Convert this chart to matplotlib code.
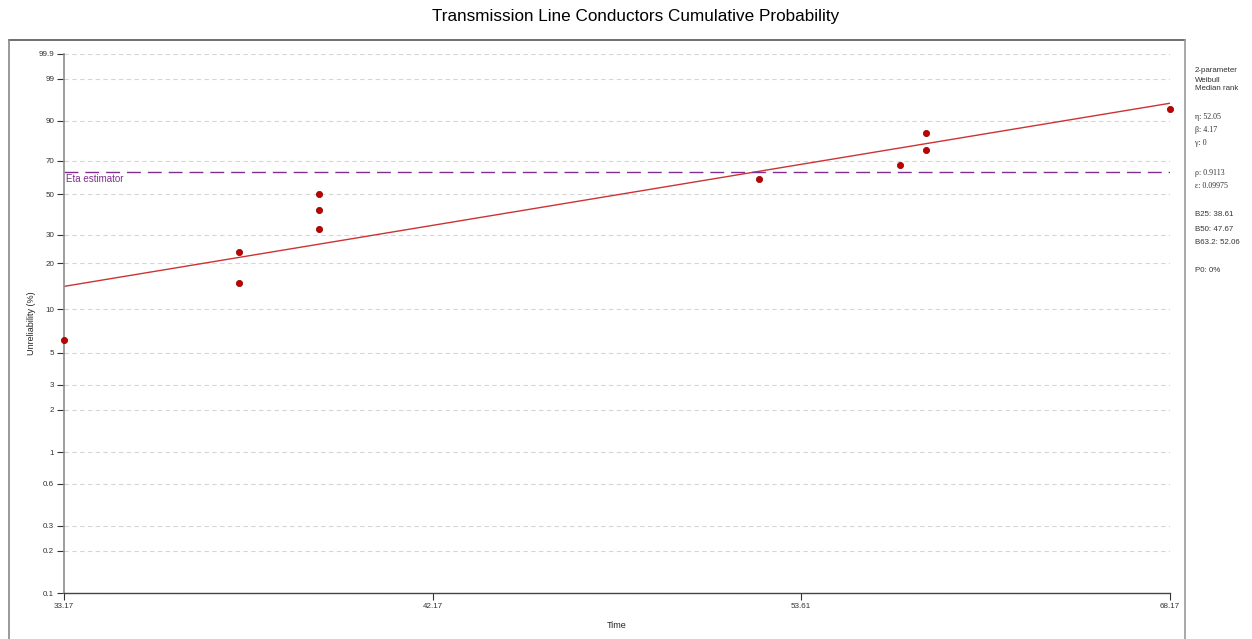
import numpy as np
import matplotlib
matplotlib.use('Agg')
import matplotlib.pyplot as plt
from matplotlib.lines import Line2D

plt.rcParams['font.family'] = ['Liberation Sans', 'DejaVu Sans']

# failure times and median-rank unreliability (%)
times = [33.17, 37.17, 37.17, 39.17, 39.17, 39.17, 52.17, 57.17, 58.17, 58.17, 68.17]
unreliability = [6.1, 14.9, 23.7, 32.5, 41.2, 50.0, 58.8, 67.5, 76.3, 85.1, 93.9]

# fitted 2-parameter Weibull
eta = 52.05
beta = 4.17
eta_level = 63.2

x_ticks = [33.17, 42.17, 53.61, 68.17]
y_ticks = [0.1, 0.2, 0.3, 0.6, 1, 2, 3, 5, 10, 20, 30, 50, 70, 90, 99, 99.9]
y_tick_labels = ['0.1', '0.2', '0.3', '0.6', '1', '2', '3', '5', '10', '20', '30',
                 '50', '70', '90', '99', '99.9']

side_lines = [
    ('2-parameter', 71, 'sans'), ('Weibull', 80, 'sans'), ('Median rank', 89, 'sans'),
    ('η: 52.05', 117, 'serif'), ('β: 4.17', 130, 'serif'), ('γ: 0', 143, 'serif'),
    ('ρ: 0.9113', 173, 'serif'), ('ε: 0.09975', 186, 'serif'),
    ('B25: 38.61', 215, 'sans'), ('B50: 47.67', 229, 'sans'), ('B63.2: 52.06', 242, 'sans'),
    ('P0: 0%', 270, 'sans'),
]


def weibull_fwd(p):
    p = np.clip(np.asarray(p, dtype=float), 1e-6, 100 - 1e-6)
    return np.log(-np.log(1 - p / 100.0))


def weibull_inv(w):
    return 100.0 * (1 - np.exp(-np.exp(np.asarray(w, dtype=float))))


W, H = 1252, 639
fig = plt.figure(figsize=(W / 100, H / 100), dpi=100)
ax = fig.add_axes([64 / W, 1 - 593 / H, (1170 - 64) / W, (593 - 54) / H])

ax.set_xscale('log')
ax.set_yscale('function', functions=(weibull_fwd, weibull_inv))
ax.set_xlim(x_ticks[0], x_ticks[-1])
ax.set_ylim(0.1, 99.9)

# grid on every probability tick
for yv in y_ticks:
    ax.axhline(yv, color='#d6d6d6', lw=0.8, ls=(0, (4, 3)), zorder=0)

# fitted line
xf = np.array([x_ticks[0], x_ticks[-1]])
yf = 100 * (1 - np.exp(-(xf / eta) ** beta))
ax.plot(xf, yf, color='#cc3333', lw=1.0, zorder=2)

# eta estimator
ax.axhline(eta_level, color='#7f2f8f', lw=1.0, ls=(0, (10, 5)), zorder=2)
ax.text(x_ticks[0] * 1.001, eta_level * 0.98, 'Eta estimator', color='#7f2f8f', fontsize=7,
        va='top', ha='left')

ax.plot(times, unreliability, 'o', color='#c00000', mec='#8a0000', mew=0.5, ms=4.5,
        zorder=3, clip_on=False)

ax.set_xticks(x_ticks)
ax.set_xticklabels([f'{v:.2f}' for v in x_ticks])
ax.xaxis.set_minor_locator(matplotlib.ticker.NullLocator())
ax.set_yticks(y_ticks)
ax.set_yticklabels(y_tick_labels)
ax.yaxis.set_minor_locator(matplotlib.ticker.NullLocator())
ax.tick_params(axis='both', labelsize=5.8, colors='#333333', length=5, width=0.8, pad=2)

for s in ['top', 'right']:
    ax.spines[s].set_visible(False)
ax.spines['left'].set_color('#8c8c8c')
ax.spines['left'].set_linewidth(1.2)
ax.spines['bottom'].set_color('#444444')
ax.spines['bottom'].set_linewidth(1.0)

ax.set_xlabel('Time', fontsize=6.5, color='#222222', labelpad=8)
ax.set_ylabel('Unreliability (%)', fontsize=6.5, color='#222222')
ax.yaxis.set_label_coords(-28 / 1106, 0.5)

fig.suptitle('Transmission Line Conductors Cumulative Probability', fontsize=12.3,
             x=636 / W, y=1 - 16 / H, va='center')

# outer frame
fig.add_artist(Line2D([9 / W, 1185 / W], [1 - 40 / H, 1 - 40 / H], color='#555555', lw=1.2))
fig.add_artist(Line2D([9 / W, 9 / W], [0, 1 - 40 / H], color='#888888', lw=1.2))
fig.add_artist(Line2D([1185 / W, 1185 / W], [0, 1 - 40 / H], color='#999999', lw=1.2))

for txt, yp, kind in side_lines:
    fam = ['Liberation Serif', 'DejaVu Serif'] if kind == 'serif' else ['Liberation Sans', 'DejaVu Sans']
    fig.text(1195 / W, 1 - yp / H, txt, fontsize=5.7, family=fam, color='#333333',
             va='center', ha='left')

fig.savefig('out.png', dpi=100)
